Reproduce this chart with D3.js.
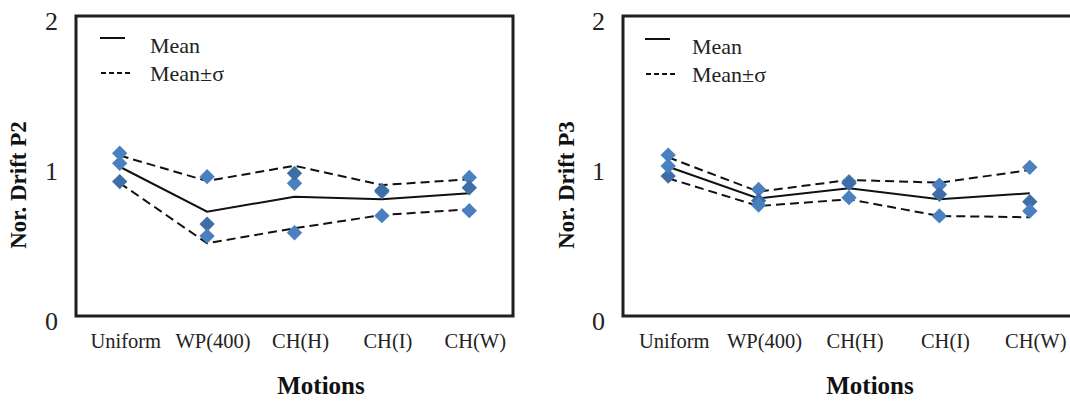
<!DOCTYPE html>
<html><head><meta charset="utf-8">
<script src="https://cdn.jsdelivr.net/npm/d3@7/dist/d3.min.js"></script>
<style>
html,body{margin:0;padding:0;background:#fff;}
svg{display:block;font-family:"Liberation Serif","Times New Roman",serif;}
</style></head>
<body><svg id="c" width="1070" height="401"></svg>
<script>
const categories = ["Uniform","WP(400)","CH(H)","CH(I)","CH(W)"];
const yTicks = [0,1,2];

// Panel P2
const p2_s1 = [1.085, 0.929, 0.885, 0.829, 0.924];
const p2_s2 = [0.896, 0.613, 0.951, 0.838, 0.855];
const p2_s3 = [1.018, 0.533, 0.555, 0.669, 0.702];
const p2_mean  = [0.995, 0.695, 0.795, 0.778, 0.818];
const p2_upper = [1.070, 0.900, 1.002, 0.873, 0.911];
const p2_lower = [0.887, 0.485, 0.585, 0.673, 0.711];

// Panel P3
const p3_s1 = [1.073, 0.844, 0.896, 0.873, 0.991];
const p3_s2 = [0.933, 0.769, 0.885, 0.811, 0.762];
const p3_s3 = [1.000, 0.740, 0.789, 0.667, 0.700];
const p3_mean  = [0.995, 0.784, 0.851, 0.778, 0.818];
const p3_upper = [1.058, 0.829, 0.907, 0.889, 0.973];
const p3_lower = [0.918, 0.733, 0.778, 0.667, 0.658];

const svg = d3.select("#c");
const light = "#4b80c0", dark = "#3f6ea6";

const panels = [
  {x0:76, x1:513, title:"Nor. Drift P2", yTitleX:26, legX:100, legTX:150, legY:0,
   pts:[[p2_s1,light],[p2_s2,dark],[p2_s3,light]], mean:p2_mean, upper:p2_upper, lower:p2_lower, motX:321},
  {x0:623, x1:1075, title:"Nor. Drift P3", yTitleX:574, legX:645, legTX:692, legY:1,
   pts:[[p3_s1,light],[p3_s2,dark],[p3_s3,light]], mean:p3_mean, upper:p3_upper, lower:p3_lower, motX:870}
];

panels.forEach(p => {
  const g = svg.append("g");
  const x = d3.scaleLinear().domain([0.5, 5.5]).range([p.x0, p.x1]);
  const y = d3.scaleLinear().domain([0, 2]).range([316, 16]);

  const ax = g.append("g").attr("transform", `translate(${p.x0 - 18},0)`)
    .call(d3.axisLeft(y).tickValues(yTicks).tickSize(0).tickPadding(0).tickFormat(d3.format("d")));
  ax.select(".domain").remove();
  ax.attr("font-family", "Liberation Serif");
  ax.selectAll("text").attr("font-size", 26).attr("fill", "#222").attr("dy", "0.5em");

  g.selectAll(".cat").data(categories).enter().append("text")
    .attr("x", (d,i) => x(i+1) + 6).attr("y", 348)
    .attr("text-anchor", "middle").attr("font-size", 20.5).attr("fill", "#222")
    .text(d => d);

  const line = d3.line().x((d,i) => x(i+1)).y(d => y(d));
  g.append("path").attr("d", line(p.upper)).attr("fill","none").attr("stroke","#111")
    .attr("stroke-width", 2).attr("stroke-dasharray", "9,5");
  g.append("path").attr("d", line(p.lower)).attr("fill","none").attr("stroke","#111")
    .attr("stroke-width", 2).attr("stroke-dasharray", "9,5");
  g.append("path").attr("d", line(p.mean)).attr("fill","none").attr("stroke","#111")
    .attr("stroke-width", 2);

  const sym = d3.symbol().type(d3.symbolDiamond2).size(150);
  p.pts.forEach(([arr, col]) => {
    g.selectAll(null).data(arr).enter().append("path")
      .attr("d", sym)
      .attr("transform", (d,i) => `translate(${x(i+1)},${y(d)})`)
      .attr("fill", col);
  });

  g.append("rect").attr("x", p.x0).attr("y", 16).attr("width", p.x1 - p.x0).attr("height", 300)
    .attr("fill", "none").attr("stroke", "#1f1f1f").attr("stroke-width", 3);

  const ly = p.legY;
  g.append("line").attr("x1", p.legX).attr("x2", p.legX + 25).attr("y1", 38 + ly).attr("y2", 38 + ly)
    .attr("stroke", "#111").attr("stroke-width", 2);
  g.append("text").attr("x", p.legTX).attr("y", 53 + ly).attr("font-size", 22).attr("fill", "#222").text("Mean");
  g.append("line").attr("x1", p.legX + 1).attr("x2", p.legX + 31).attr("y1", 73 + ly).attr("y2", 73 + ly)
    .attr("stroke", "#111").attr("stroke-width", 2).attr("stroke-dasharray", "5,3");
  g.append("text").attr("x", p.legTX).attr("y", 81 + ly).attr("font-size", 22).attr("fill", "#222").text("Mean±σ");

  g.append("text").attr("transform", `translate(${p.yTitleX},185) rotate(-90)`)
    .attr("text-anchor", "middle").attr("font-size", 23).attr("font-weight", "bold").attr("fill", "#111")
    .text(p.title);
  g.append("text").attr("x", p.motX).attr("y", 394).attr("text-anchor", "middle")
    .attr("font-size", 25).attr("font-weight", "bold").attr("fill", "#111").text("Motions");
});
</script></body></html>
